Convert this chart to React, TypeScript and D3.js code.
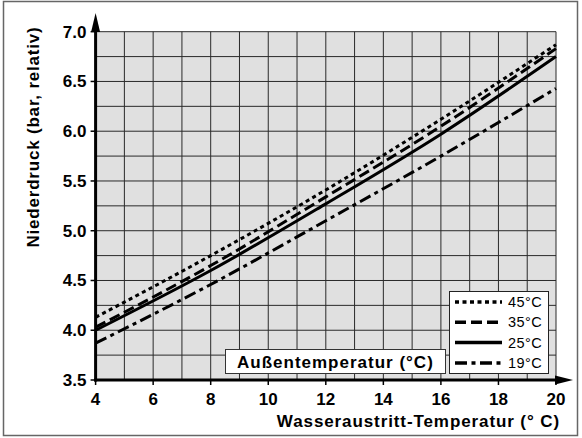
import React from "react";
import * as d3 from "d3";

const xValues = [4, 8, 12, 16, 20];
const series45 = [4.13, 4.75, 5.41, 6.12, 6.87];
const series35 = [4.03, 4.65, 5.34, 6.05, 6.83];
const series25 = [4.0, 4.6, 5.27, 5.97, 6.75];
const series19 = [3.87, 4.46, 5.1, 5.75, 6.43];
const seriesLabels = ["45°C", "35°C", "25°C", "19°C"];
const xTicks = [4, 6, 8, 10, 12, 14, 16, 18, 20];
const yTicks = [3.5, 4.0, 4.5, 5.0, 5.5, 6.0, 6.5, 7.0];

const W = 582;
const H = 438;
const FONT = "'Liberation Sans', Arial, Helvetica, sans-serif";

export default function App() {
  const x = d3.scaleLinear().domain([4, 20]).range([95.6, 556]);
  const y = d3.scaleLinear().domain([3.5, 7.0]).range([380, 31.7]);

  const allSeries = [series45, series35, series25, series19];
  const dashes = ["4,3.5", "11,5", undefined, "12,4.5,4,4.5"];
  const line = d3
    .line<number>()
    .x((_, i) => x(xValues[i]))
    .y((d) => y(d))
    .curve(d3.curveMonotoneX);

  const vGrid = d3.range(4, 21, 1);
  const hGrid = d3.range(3.5, 7.001, 0.25);

  const legX = 449.5;
  const legY = 291.5;
  const legW = 99;
  const legH = 82;

  return (
    <svg
      width={W}
      height={H}
      style={{ position: "absolute", left: 0, top: 0, background: "#fff" }}
      fontFamily={FONT}
    >
      <rect x={3.5} y={1.5} width={574} height={434} fill="#fff" stroke="#666" strokeWidth={1.5} />
      <rect x={x(4)} y={y(7)} width={x(20) - x(4)} height={y(3.5) - y(7)} fill="#e0e0e0" />
      {vGrid.map((v) => (
        <line key={"v" + v} x1={x(v)} x2={x(v)} y1={y(3.5)} y2={y(7)} stroke="#2a2a2a" strokeWidth={1} />
      ))}
      {hGrid.map((v) => (
        <line key={"h" + v} x1={x(4)} x2={x(20)} y1={y(v)} y2={y(v)} stroke="#2a2a2a" strokeWidth={1} />
      ))}

      {allSeries.map((s, i) => (
        <path
          key={"s" + i}
          d={line(s) || ""}
          fill="none"
          stroke="#000"
          strokeWidth={3}
          strokeDasharray={dashes[i]}
        />
      ))}

      {/* axes */}
      <line x1={x(4)} x2={x(4)} y1={y(3.5) + 1.5} y2={28} stroke="#000" strokeWidth={3} />
      <path d={`M${x(4)},13 L${x(4) - 4.5},32 L${x(4) + 4.5},32 Z`} fill="#000" />
      <line x1={x(4) - 1.5} x2={558} y1={y(3.5)} y2={y(3.5)} stroke="#000" strokeWidth={3} />
      <path d={`M573,${y(3.5)} L555,${y(3.5) - 4.5} L555,${y(3.5) + 4.5} Z`} fill="#000" />

      {xTicks.map((t) => (
        <g key={"xt" + t}>
          <line x1={x(t)} x2={x(t)} y1={y(3.5)} y2={y(3.5) + 5} stroke="#000" strokeWidth={1.5} />
          <text x={x(t)} y={405} textAnchor="middle" fontSize={17} fontWeight="bold">
            {t}
          </text>
        </g>
      ))}
      {yTicks.map((t) => (
        <g key={"yt" + t}>
          <line x1={x(4) - 5} x2={x(4)} y1={y(t)} y2={y(t)} stroke="#000" strokeWidth={1.5} />
          <text x={86.5} y={y(t) + 6} textAnchor="end" fontSize={17} fontWeight="bold">
            {t.toFixed(1)}
          </text>
        </g>
      ))}

      <text x={560} y={427} textAnchor="end" fontSize={17} fontWeight="bold" letterSpacing={0.9}>
        Wasseraustritt-Temperatur (° C)
      </text>
      <text
        transform={`translate(39,137) rotate(-90)`}
        textAnchor="middle"
        fontSize={17}
        fontWeight="bold"
        letterSpacing={0.8}
      >
        Niederdruck (bar, relativ)
      </text>

      {/* Außentemperatur box */}
      <rect x={225.5} y={349.5} width={220} height={24} fill="#fff" stroke="#333" strokeWidth={1} />
      <text x={237} y={367.5} fontSize={17} fontWeight="bold" letterSpacing={1}>
        Außentemperatur (°C)
      </text>

      {/* legend */}
      <rect x={legX} y={legY} width={legW} height={legH} fill="#fff" stroke="#222" strokeWidth={1} />
      {seriesLabels.map((lab, i) => {
        const yy = legY + 10.5 + i * 20.3;
        return (
          <g key={"l" + i}>
            <line
              x1={455}
              x2={502}
              y1={yy}
              y2={yy}
              stroke="#000"
              strokeWidth={3.5}
              strokeDasharray={dashes[i]}
            />
            <text x={508} y={yy + 5} fontSize={14.5} letterSpacing={0.4}>
              {lab}
            </text>
          </g>
        );
      })}
    </svg>
  );
}
